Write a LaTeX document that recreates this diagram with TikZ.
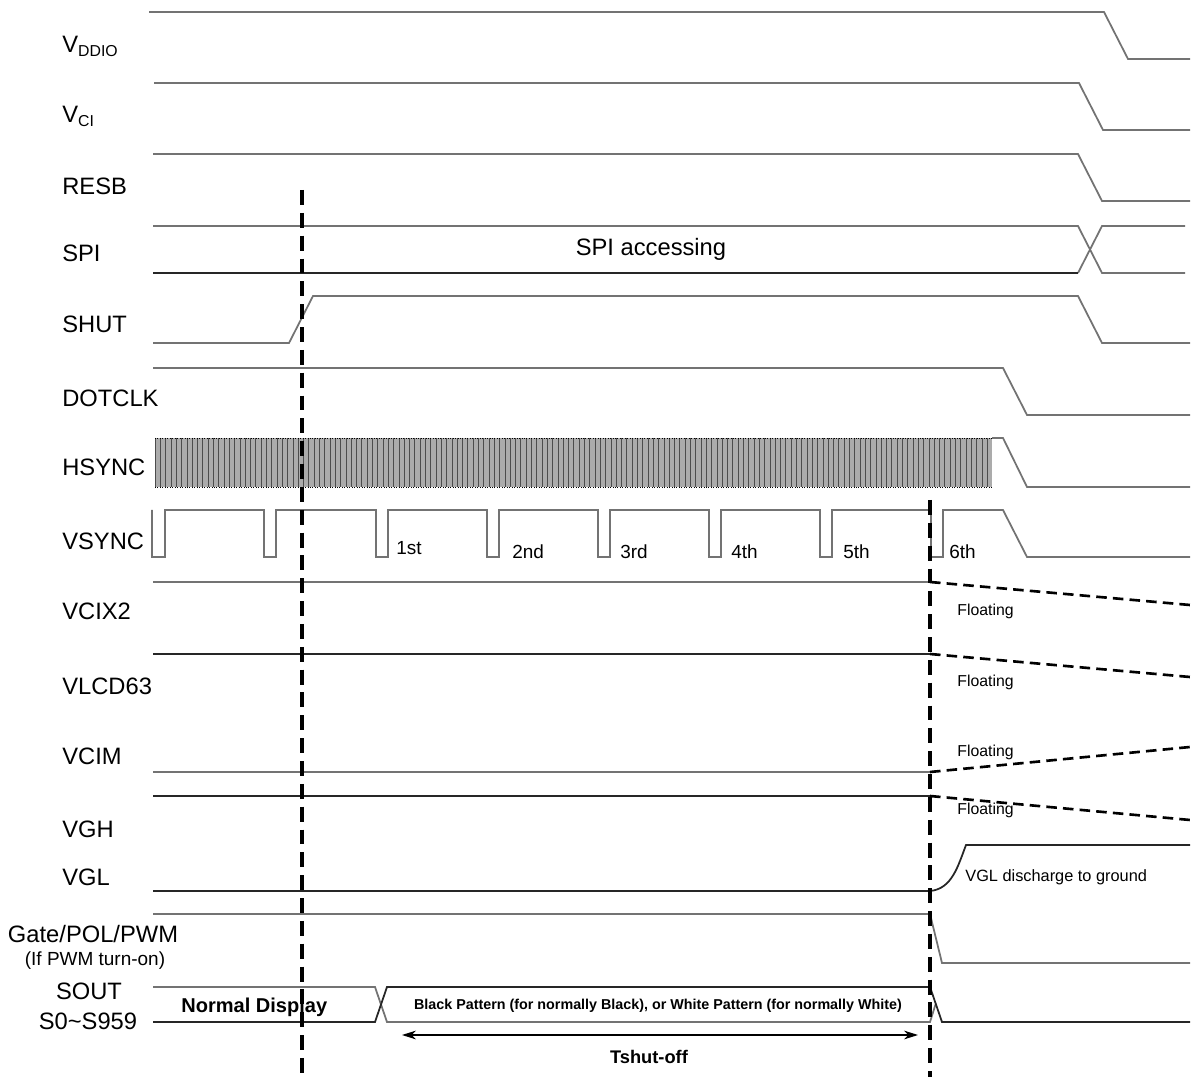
\documentclass[tikz,border=0pt]{standalone}
\usepackage{fontspec}
\setmainfont{Liberation Sans}
\usetikzlibrary{arrows.meta}
\newcommand{\lowsub}[1]{\raisebox{-0.3ex}{\fontsize{9}{10}\selectfont #1}}
\tikzset{
  wave/.style={line width=1pt, draw=black!55},
  wavedk/.style={line width=1pt, draw=black!85},
  cut/.style={line width=1.8pt, dash pattern=on 8.5pt off 4.5pt},
  floatline/.style={line width=1.5pt, dash pattern=on 6pt off 3.5pt},
  signame/.style={anchor=base west, inner sep=0pt, font=\fontsize{13.5}{16}\selectfont},
  signamec/.style={anchor=base, inner sep=0pt, font=\fontsize{13.5}{16}\selectfont},
  frame/.style={anchor=base west, inner sep=0pt, font=\fontsize{10.8}{13}\selectfont},
  note/.style={anchor=base west, inner sep=0pt, font=\fontsize{9}{11}\selectfont}
}
\begin{document}
\begin{tikzpicture}[x=0.02cm,y=-0.02cm]
\useasboundingbox (0,0) rectangle (1191,1077);
% signal names
\node[signame] (vddio) at (62,53) {V\lowsub{DDIO}};
\node[signame] (vci) at (62,123) {V\lowsub{CI}};
\node[signame] (resb) at (62,195) {RESB};
\node[signame] (spi) at (62,262) {SPI};
\node[signame] (shut) at (62,333) {SHUT};
\node[signame] (dotclk) at (62,407) {DOTCLK};
\node[signame] (hsync) at (62,476) {HSYNC};
\node[signame] (vsync) at (62,550) {VSYNC};
\node[signame] (vcix2) at (62,620) {VCIX2};
\node[signame] (vlcd) at (62,695) {VLCD63};
\node[signame] (vcim) at (62,765) {VCIM};
\node[signame] (vgh) at (62,838) {VGH};
\node[signame] (vgl) at (62,886) {VGL};
\node[signamec] (gate) at (93,942) {Gate/POL/PWM};
\node[anchor=base, inner sep=0pt, font=\fontsize{10.8}{13}\selectfont] (pwm) at (95,965) {(If PWM turn-on)};
\node[signamec] (sout) at (89,999) {SOUT};
\node[signamec] (srange) at (88,1029) {S0\textasciitilde S959};
% supply and reset
\draw[wave] (149,12) -- (1104,12) -- (1128,59) -- (1190,59);
\draw[wave] (154,83) -- (1079,83) -- (1103,130) -- (1190,130);
\draw[wave] (153,154) -- (1078,154) -- (1102,201) -- (1190,201);
% SPI bus
\draw[wave] (153,226) -- (1078,226) -- (1102,273) -- (1185,273);
\draw[wave] (1078,273) -- (1102,226) -- (1185,226);
\draw[wavedk] (153,273) -- (1078,273);
\node[anchor=base, inner sep=0pt, font=\fontsize{13.5}{16}\selectfont] (spiacc) at (651,256) {SPI accessing};
% SHUT and DOTCLK
\draw[wave] (153,343) -- (289,343) -- (313,296) -- (1078,296) -- (1102,343) -- (1190,343);
\draw[wave] (153,368) -- (1003,368) -- (1027,415) -- (1190,415);
% HSYNC pulse train
\fill[black!33] (155,438) rectangle (992,487);
\foreach \i in {0,...,157}
  \draw[black!70, line width=0.3pt] ({155+\i*5.3},438) -- ({155+\i*5.3},487);
\draw[black, densely dotted, line width=0.4pt] (155,438) -- (992,438) (155,487) -- (992,487);
\draw[wave] (992,438) -- (1003,438) -- (1027,487) -- (1190,487);
% VSYNC
\draw[wave] (152,510) -- (152,557) -- (165,557) -- (165,510)
  foreach \t in {264,376,487,598,709,820,931} { -- (\t,510) -- (\t,557) -- ({\t+12},557) -- ({\t+12},510) }
  -- (1003,510) -- (1027,557) -- (1190,557);
\node[frame] (f1) at (396,555) {1st};
\node[frame] (f2) at (512,559) {2nd};
\node[frame] (f3) at (620,559) {3rd};
\node[frame] (f4) at (731,559) {4th};
\node[frame] (f5) at (843,559) {5th};
\node[frame] (f6) at (949,559) {6th};
% floating rails
\draw[wave] (153,582) -- (930,582);
\draw[floatline] (930,582) -- (1190,605);
\node[note] (fl1) at (957,616) {Floating};
\draw[wavedk] (153,654) -- (930,654);
\draw[floatline] (930,654) -- (1190,677);
\node[note] (fl2) at (957,687) {Floating};
\draw[wave] (153,772) -- (930,772);
\draw[floatline] (930,772) -- (1190,747);
\node[note] (fl3) at (957,757) {Floating};
\draw[wavedk] (153,796) -- (930,796);
\draw[floatline] (930,796) -- (1190,820);
\node[note] (fl4) at (957,815) {Floating};
% VGL and gate
\draw[wavedk] (153,891) -- (930,891) .. controls (952,889) and (958,866) .. (966,845) -- (1190,845);
\node[note, font=\fontsize{9.3}{11}\selectfont] (vgldis) at (965,882) {VGL discharge to ground};
\draw[wave] (153,914) -- (930,914) -- (942,963) -- (1190,963);
% source output
\draw[wave] (153,987) -- (375,987) -- (387,1022) -- (930,1022) -- (935.5,1004.5);
\draw[wavedk] (153,1022) -- (375,1022) -- (387,987) -- (930,987) -- (942,1022) -- (1190,1022);
\node[anchor=base west, inner sep=0pt, font=\bfseries\fontsize{11.4}{13}\selectfont] (normal) at (181,1012) {Normal Display};
\node[anchor=base, inner sep=0pt, font=\bfseries\fontsize{8.15}{10}\selectfont] (pattern) at (658,1009) {Black Pattern (for normally Black), or White Pattern (for normally White)};
% shut-off time
\coordinate (tsa) at (402,1035);
\coordinate (tsb) at (918,1035);
\draw[{Stealth[length=8pt,width=5pt]}-{Stealth[length=8pt,width=5pt]}, line width=0.6pt] (tsa) -- (tsb);
\node[anchor=base, inner sep=0pt, font=\bfseries\fontsize{10.4}{12}\selectfont] (tshut) at (649,1063) {Tshut-off};
% cut lines
\draw[cut] (302,190) -- (302,1077);
\draw[cut] (930,500) -- (930,1077);
\end{tikzpicture}
\end{document}
